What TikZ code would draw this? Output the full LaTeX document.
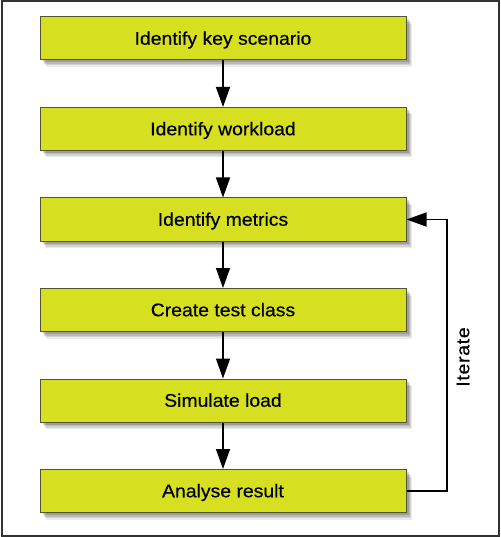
\documentclass[tikz,border=0pt]{standalone}
\usepackage{fontspec}
\setmainfont{Liberation Sans}[FakeStretch=1.06,FakeBold=0.4]
\usetikzlibrary{arrows.meta,shadows}
\definecolor{boxfill}{RGB}{214,224,32}
\definecolor{boxline}{RGB}{85,85,45}
\definecolor{frame}{RGB}{50,50,50}
\tikzset{
  stepbox/.style={draw=boxline, line width=1pt, fill=boxfill,
    minimum width=366pt, minimum height=43pt, inner sep=0pt,
    text height=12.5pt, text depth=0pt,
    font=\fontsize{18.3}{21}\selectfont,
    preaction={fill=black, opacity=0.08, transform canvas={xshift=6pt,yshift=-7pt}},
    preaction={fill=black, opacity=0.10, transform canvas={xshift=5pt,yshift=-5.5pt}},
    preaction={fill=black, opacity=0.12, transform canvas={xshift=4pt,yshift=-4pt}},
    preaction={fill=black, opacity=0.15, transform canvas={xshift=3pt,yshift=-2.5pt}}},
  flow/.style={line width=1.4pt, -{Triangle[width=14pt,length=20pt]}}
}
\begin{document}
\begin{tikzpicture}[x=1pt,y=-1pt]
\useasboundingbox (0,0) rectangle (500,537);
\draw[frame, line width=2pt] (1.5,1.5) rectangle (498.5,535.5);
\node[stepbox] (s1) at (223,38.5)  {Identify key scenario};
\node[stepbox] (s2) at (223,129)   {Identify workload};
\node[stepbox] (s3) at (223,219.5) {Identify metrics};
\node[stepbox] (s4) at (223,310)   {Create test class};
\node[stepbox] (s5) at (223,400.5) {Simulate load};
\node[stepbox] (s6) at (223,491)   {Analyse result};
\draw[flow] (s1) -- (s2);
\draw[flow] (s2) -- (s3);
\draw[flow] (s3) -- (s4);
\draw[flow] (s4) -- (s5);
\draw[flow] (s5) -- (s6);
\coordinate (c1) at (447,491);
\coordinate (c2) at (447,219.5);
\draw[flow] (s6.east) -- (c1) -- (c2) -- (s3.east);
\node[rotate=90, text height=12.5pt, text depth=0pt, inner sep=0pt,
  font=\fontsize{18.3}{21}\selectfont\addfontfeature{LetterSpace=4}] (it) at (463,357) {Iterate};
\end{tikzpicture}
\end{document}
